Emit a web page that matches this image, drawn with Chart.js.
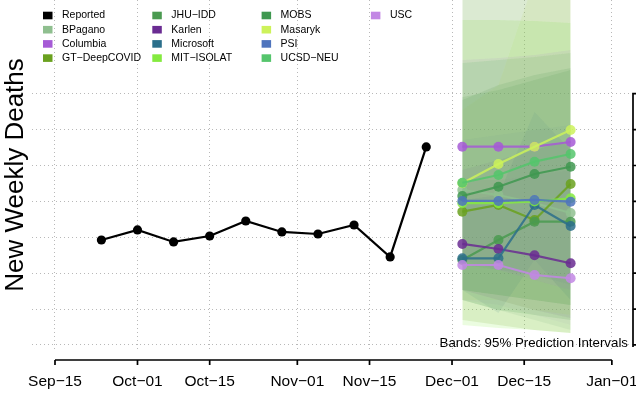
<!DOCTYPE html>
<html>
<head>
<meta charset="utf-8">
<script src="https://cdn.jsdelivr.net/npm/chart.js@4.4.0/dist/chart.umd.min.js"></script>
<style>
  html, body { margin: 0; padding: 0; background: #fff; }
  canvas { display: block; }
</style>
</head>
<body>
<canvas id="deathsChart" width="636" height="397"></canvas>
<script>
// x axis ticks
const tickDates = ['2020-09-15', '2020-10-01', '2020-10-15', '2020-11-01', '2020-11-15', '2020-12-01', '2020-12-15', '2021-01-01'];
const tickLabels = ['Sep\u221215', 'Oct\u221201', 'Oct\u221215', 'Nov\u221201', 'Nov\u221215', 'Dec\u221201', 'Dec\u221215', 'Jan\u221201'];
const yTicks = [0, 500, 1000, 1500, 2000, 2500, 3000, 3500];

// reported weekly deaths
const reportedDates = ['2020-09-24', '2020-10-01', '2020-10-08', '2020-10-15', '2020-10-22', '2020-10-29', '2020-11-05', '2020-11-12', '2020-11-19', '2020-11-26'];
const reportedDeaths = [1462, 1602, 1435, 1518, 1727, 1574, 1546, 1671, 1226, 2758];

// forecasts
const forecastDates = ['2020-12-03', '2020-12-10', '2020-12-17', '2020-12-24'];
const models = ['BPagano', 'Columbia', 'GT\u2212DeepCOVID', 'JHU\u2212IDD', 'Karlen', 'Microsoft', 'MIT\u2212ISOLAT', 'MOBS', 'Masaryk', 'PSI', 'UCSD\u2212NEU', 'USC'];
const modelColors = ['#8fbf8f', '#a65bd6', '#6aa11f', '#4a9a50', '#6a2b92', '#2b6f8b', '#84ea3f', '#3f9850', '#cdf25a', '#4f74bd', '#55c56c', '#c287e4'];
const bandAlpha = [0.17, 0.1, 0.14, 0.17, 0.1, 0.11, 0.16, 0.17, 0.13, 0.11, 0.17, 0.1];

const forecastMid = [
  [2159, 2089, 1978, 1838],
  [2762, 2762, 2762, 2827],
  [1857, 1950, 1741, 2242],
  [1184, 1462, 1717, 1717],
  [1407, 1337, 1249, 1138],
  [1207, 1207, 1950, 1657],
  [1975, 1975, 2000, 2043],
  [2075, 2205, 2382, 2483],
  [2252, 2521, 2762, 2994],
  [2006, 2006, 2020, 1996],
  [2260, 2368, 2553, 2660],
  [1114, 1114, 975, 929]
];
// 95% prediction intervals
const forecastLo = [
  [627, 488, 348, 209],
  [1184, 1045, 905, 766],
  [348, 279, 209, 167],
  [627, 488, 418, 348],
  [766, 627, 488, 376],
  [766, 446, 1184, 627],
  [279, 237, 209, 167],
  [766, 697, 627, 557],
  [627, 627, 488, 418],
  [1114, 1045, 975, 836],
  [766, 697, 627, 557],
  [627, 557, 418, 279]
];
const forecastHi = [
  [5363, 5363, 5363, 5363],
  [3970, 3998, 4040, 4109],
  [5224, 5642, 6060, 6477],
  [3413, 3622, 3761, 3859],
  [2438, 2577, 2716, 2856],
  [2020, 2090, 3246, 2716],
  [4527, 4527, 4513, 4485],
  [3455, 3552, 3691, 3831],
  [3274, 3622, 5085, 5642],
  [2856, 2925, 2995, 3065],
  [3928, 3970, 4012, 4068],
  [2298, 2298, 2368, 2438]
];

const FONT = '"Liberation Sans", Arial, Helvetica, sans-serif';

// days since Sep-15
function dayNum(s) {
  const p = s.split('-');
  return (Date.UTC(+p[0], +p[1] - 1, +p[2]) - Date.UTC(2020, 8, 15)) / 864e5;
}
function rgba(hex, a) {
  const n = parseInt(hex.slice(1), 16);
  return `rgba(${n >> 16}, ${(n >> 8) & 255}, ${n & 255}, ${a})`;
}
const tickDays = tickDates.map(dayNum);
const toPoints = (dates, vals) => dates.map((d, i) => ({ x: dayNum(d), y: vals[i] }));

const datasets = [];
datasets.push({
  label: 'Reported',
  data: toPoints(reportedDates, reportedDeaths),
  borderColor: '#000',
  backgroundColor: '#000',
  borderWidth: 2.2,
  pointRadius: 4.6,
  pointBorderWidth: 0,
  order: 0
});

// bands
models.forEach((m, i) => {
  datasets.push({
    label: m + ' lo',
    data: toPoints(forecastDates, forecastLo[i]),
    borderWidth: 0,
    borderColor: 'rgba(0,0,0,0)',
    pointRadius: 0,
    fill: false,
    order: 100 + i
  });
  datasets.push({
    label: m + ' hi',
    data: toPoints(forecastDates, forecastHi[i]),
    borderWidth: 0,
    borderColor: 'rgba(0,0,0,0)',
    backgroundColor: rgba(modelColors[i], bandAlpha[i]),
    pointRadius: 0,
    fill: '-1',
    order: 100 + i
  });
});

// forecast lines
models.forEach((m, i) => {
  datasets.push({
    label: m,
    data: toPoints(forecastDates, forecastMid[i]),
    borderColor: rgba(modelColors[i], 0.85),
    backgroundColor: rgba(modelColors[i], 0.85),
    borderWidth: 2.2,
    pointRadius: 5,
    pointBorderWidth: 0,
    order: 50 - i
  });
});

// R style axes: x axis line below the plot, y axis on the right
const rAxes = {
  id: 'rAxes',
  afterDraw(chart) {
    const { ctx, chartArea } = chart;
    const x = chart.scales.x, y = chart.scales.y;
    ctx.save();
    ctx.strokeStyle = '#000';
    ctx.lineWidth = 1.7;
    const ay = chartArea.bottom + 10;
    ctx.beginPath();
    ctx.moveTo(x.getPixelForValue(tickDays[0]), ay);
    ctx.lineTo(x.getPixelForValue(tickDays[tickDays.length - 1]), ay);
    tickDays.forEach(d => {
      const px = x.getPixelForValue(d);
      ctx.moveTo(px, ay);
      ctx.lineTo(px, ay + 5);
    });
    const ax = chartArea.right;
    ctx.moveTo(ax, y.getPixelForValue(yTicks[yTicks.length - 1]) - 1);
    ctx.lineTo(ax, y.getPixelForValue(yTicks[0]) + 2);
    yTicks.forEach(v => {
      const py = y.getPixelForValue(v);
      ctx.moveTo(ax, py);
      ctx.lineTo(ax + 8, py);
    });
    ctx.stroke();

    ctx.fillStyle = '#000';
    ctx.font = '13.3px ' + FONT;
    ctx.textAlign = 'right';
    ctx.textBaseline = 'middle';
    ctx.fillText('Bands: 95% Prediction Intervals', ax - 5, chartArea.bottom - 7);
    ctx.restore();
  }
};

// legend in four columns, filled down
const legendNames = ['Reported'].concat(models);
const legendColors = ['#000000'].concat(modelColors);
const rLegend = {
  id: 'rLegend',
  afterDraw(chart) {
    const ctx = chart.ctx;
    ctx.save();
    ctx.font = '10.5px ' + FONT;
    ctx.textBaseline = 'middle';
    ctx.textAlign = 'left';
    legendNames.forEach((name, i) => {
      const col = Math.floor(i / 4), row = i % 4;
      const lx = 43 + col * 109.3, ly = 15.5 + row * 14.2;
      ctx.fillStyle = legendColors[i];
      ctx.fillRect(lx, ly - 3.8, 9.5, 7.6);
      ctx.fillStyle = '#000';
      ctx.fillText(name, lx + 19, ly);
    });
    ctx.restore();
  }
};

const gridColor = '#b8b8b8';

new Chart(document.getElementById('deathsChart'), {
  type: 'line',
  data: { datasets: datasets },
  options: {
    responsive: false,
    animation: false,
    devicePixelRatio: 1,
    layout: { padding: 0, autoPadding: false },
    elements: { line: { tension: 0 } },
    plugins: {
      legend: { display: false },
      tooltip: { enabled: false }
    },
    scales: {
      x: {
        type: 'linear',
        min: -4.46,
        max: 112.1,
        afterBuildTicks: s => { s.ticks = tickDays.map(v => ({ value: v })); },
        afterFit: s => { s.height = 47; s.paddingLeft = 0; s.paddingRight = 0; },
        grid: { color: gridColor, drawTicks: false },
        border: { display: false, dash: [1, 3] },
        ticks: {
          padding: 22.7,
          autoSkip: false,
          maxRotation: 0,
          color: '#000',
          font: { family: FONT, size: 15.5 },
          callback: (v, i) => tickLabels[i]
        }
      },
      y: {
        position: 'right',
        min: -70,
        max: 4805,
        afterBuildTicks: s => { s.ticks = yTicks.map(v => ({ value: v })); },
        afterFit: s => { s.width = 3; s.paddingTop = 0; s.paddingBottom = 0; },
        grid: { color: gridColor, drawTicks: false },
        border: { display: false, dash: [1, 3] },
        ticks: { display: false }
      },
      yl: {
        position: 'left',
        min: 0,
        max: 1,
        afterFit: s => { s.width = 32; s.paddingTop = 0; s.paddingBottom = 0; },
        grid: { display: false, drawTicks: false },
        border: { display: false },
        ticks: { display: false },
        title: {
          display: true,
          text: 'New Weekly Deaths',
          color: '#000',
          font: { family: FONT, size: 26, lineHeight: 1 },
          padding: { top: 3, bottom: 3 }
        }
      }
    }
  },
  plugins: [rAxes, rLegend]
});
</script>
</body>
</html>
